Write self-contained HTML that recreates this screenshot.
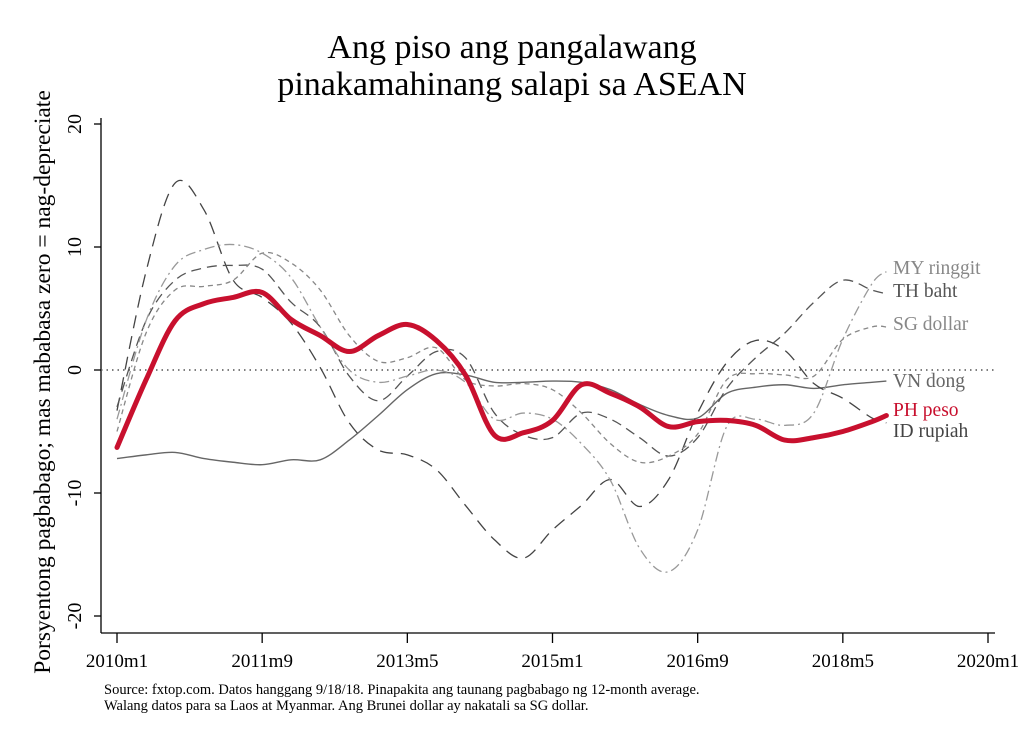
<!DOCTYPE html>
<html><head><meta charset="utf-8"><style>
body{margin:0;background:#fff;}
svg{display:block;font-family:"Liberation Serif",serif;}
</style></head><body>
<svg id="chart" width="1023" height="744" viewBox="0 0 1023 744">
<text x="512" y="58" font-size="34" text-anchor="middle">Ang piso ang pangalawang</text>
<text x="512" y="95" font-size="34" text-anchor="middle">pinakamahinang salapi sa ASEAN</text>
<text transform="translate(50,382) rotate(-90)" font-size="23.5" text-anchor="middle">Porsyentong pagbabago; mas mababasa zero = nag-depreciate</text>
<text x="104" y="694" font-size="14.5">Source: fxtop.com. Datos hanggang 9/18/18. Pinapakita ang taunang pagbabago ng 12-month average.</text>
<text x="104" y="710" font-size="14.5">Walang datos para sa Laos at Myanmar. Ang Brunei dollar ay nakatali sa SG dollar.</text>
<g id="axes"></g>
<g id="series"></g>
</svg>
<script>
const months=[0,4,8,12,16,20,24,28,32,36,40,44,48,52,56,60,64,68,72,76,80,84,88,92,96,100,104,106];
const phPeso=[-6.3,-0.8,4,5.4,5.9,6.3,4.1,2.8,1.5,2.8,3.7,2.4,-0.4,-5.3,-5.1,-4.1,-1.2,-1.9,-3.0,-4.6,-4.2,-4.1,-4.5,-5.7,-5.5,-5.0,-4.2,-3.7];
const vnDong=[-7.2,-6.9,-6.7,-7.2,-7.5,-7.7,-7.3,-7.3,-5.7,-3.7,-1.6,-0.3,-0.4,-1.0,-1.0,-0.9,-1.0,-1.6,-2.8,-3.7,-3.9,-1.9,-1.4,-1.2,-1.5,-1.2,-1.0,-0.9];
const idRupiah=[-3.3,8.0,15.2,13,7.3,5.9,3.8,0.2,-4.3,-6.5,-6.9,-8.1,-11,-13.8,-15.3,-13,-11,-8.9,-11.1,-8.9,-3.5,0.6,2.4,1.6,-1.1,-2.3,-3.9,-4.3];
const thBaht=[-3,4,7.3,8.3,8.5,8.2,5.5,3.5,-0.5,-2.5,-0.5,1.5,1.0,-3.5,-5.3,-5.5,-3.5,-4.0,-5.5,-7.0,-5.5,-1.5,1.0,3.0,5.5,7.3,6.5,6.2];
const myRinggit=[-4,4,8.5,9.8,10.2,9.5,7.5,3.5,0,-1,-0.5,0,-1,-4,-3.5,-4,-6,-9,-14.5,-16.4,-13,-4.6,-4,-4.5,-3.5,2.5,7,8];
const sgDollar=[-5,3,6.5,6.8,7.3,9.5,8.7,6.5,2.8,0.7,1.0,1.8,-0.8,-1.3,-1.1,-1.6,-3.5,-6,-7.5,-7.0,-5.2,-0.8,-0.3,-0.4,-0.5,2.5,3.5,3.5];
const xTicks=[0,20,40,60,80,100,120];
const xTickLabels=["2010m1","2011m9","2013m5","2015m1","2016m9","2018m5","2020m1"];
const yTicks=[-20,-10,0,10,20];
const yTickLabels=["-20","-10","0","10","20"];

const NS="http://www.w3.org/2000/svg";
const X=m=>117+m*(988-117)/120;
const Y=v=>370-v*(370-124)/20;
function mk(tag,attrs,parent){const e=document.createElementNS(NS,tag);for(const k in attrs)e.setAttribute(k,attrs[k]);parent.appendChild(e);return e;}
const ax=document.getElementById('axes');
let a=mk('line',{x1:101,y1:118,x2:101,y2:633,stroke:'#000','stroke-width':1.3},ax);


a=mk('line',{x1:101,y1:633,x2:995,y2:633,stroke:'#000','stroke-width':1.3},ax);


a=mk('line',{x1:101,y1:Y(0),x2:995,y2:Y(0),stroke:'#555','stroke-width':1.5,'stroke-dasharray':'1.5,4'},ax);


yTicks.forEach((v,i)=>{
  const t=mk('line',{x1:94,x2:101,y1:Y(v),y2:Y(v),stroke:'#000','stroke-width':1.3},ax);
  
  
  const l=mk('text',{transform:`translate(81,${Y(v)}) rotate(-90)`,'font-size':20,'text-anchor':'middle'},ax);
  l.textContent=yTickLabels[i];
  
  
});
xTicks.forEach((m,i)=>{
  const t=mk('line',{x1:X(m),x2:X(m),y1:633,y2:643,stroke:'#000','stroke-width':1.3},ax);
  
  
  const l=mk('text',{x:X(m),y:667,'font-size':19,'text-anchor':'middle'},ax);
  l.textContent=xTickLabels[i];
  
  
});
function pathD(vals){
  const p=months.map((m,i)=>[X(m),Y(vals[i])]);
  let d=`M${p[0][0]},${p[0][1]}`;
  for(let i=0;i<p.length-1;i++){
    const p0=p[Math.max(0,i-1)],p1=p[i],p2=p[i+1],p3=p[Math.min(p.length-1,i+2)];
    const c1=[p1[0]+(p2[0]-p0[0])/6,p1[1]+(p2[1]-p0[1])/6];
    const c2=[p2[0]-(p3[0]-p1[0])/6,p2[1]-(p3[1]-p1[1])/6];
    d+=`C${c1[0]},${c1[1]} ${c2[0]},${c2[1]} ${p2[0]},${p2[1]}`;
  }
  return d;
}
const sg=document.getElementById('series');
function series(vals,stroke,w,dash){return mk('path',{d:pathD(vals),fill:'none',stroke:stroke,'stroke-width':w,'stroke-dasharray':dash,'stroke-linejoin':'round'},sg);}
function label(txt,y,color){return mk('text',{x:893,y:y,'font-size':19.5,fill:color},sg);}
let s;
s=series(vnDong,'#666',1.4,'none');


s=series(idRupiah,'#444',1.3,'13,8');


s=series(thBaht,'#555',1.3,'10,6');


s=series(myRinggit,'#999',1.3,'10,4,2,4');


s=series(sgDollar,'#888',1.3,'5,4');


s=series(phPeso,'#c8102e',5,'none');
s.setAttribute('stroke-linecap','round');


const labels=[["MY ringgit",274,'#888','my-ringgit-label'],["TH baht",297,'#555','th-baht-label'],["SG dollar",330,'#888','sg-dollar-label'],["VN dong",387,'#666','vn-dong-label'],["PH peso",416,'#c8102e','ph-peso-label'],["ID rupiah",437,'#444','id-rupiah-label']];
labels.forEach(l=>{
  const t=label(l[0],l[1],l[2]);
  t.textContent=l[0];
  
  
});
</script>
</body></html>
